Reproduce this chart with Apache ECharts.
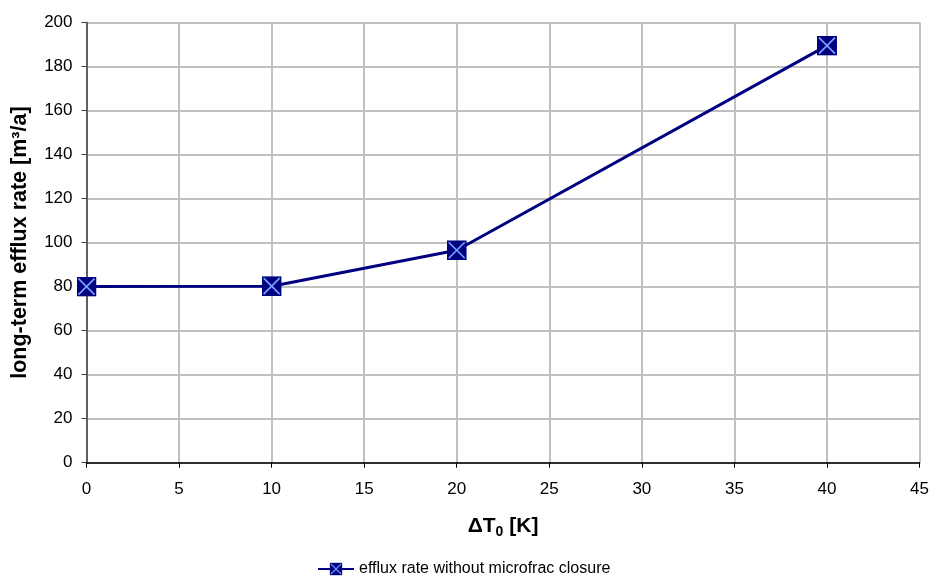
<!DOCTYPE html>
<html>
<head>
<meta charset="utf-8">
<script src="https://cdn.jsdelivr.net/npm/echarts@6/dist/echarts.min.js"></script>
<style>
  html, body { margin: 0; padding: 0; background: #fff; }
  #chart { width: 932px; height: 581px; }
</style>
</head>
<body>
<div id="chart"></div>
<script>
// Temperature difference ΔT0 [K]
const deltaT = [0, 10, 20, 40];
// Long-term efflux rate [m³/a]
const effluxRate = [80, 80.2, 96.5, 189.5];
const seriesName = 'efflux rate without microfrac closure';

// Square marker with crossed diagonals
const markerSvg = '<svg xmlns="http://www.w3.org/2000/svg" width="20" height="20" viewBox="0 0 20 20">' +
  '<rect x="0" y="0" width="20" height="20" fill="#000080"/>' +
  '<line x1="2" y1="2" x2="18" y2="18" stroke="#7aa6ff" stroke-width="1.6"/>' +
  '<line x1="18" y1="2" x2="2" y2="18" stroke="#7aa6ff" stroke-width="1.6"/>' +
  '</svg>';
const markerSymbol = 'image://data:image/svg+xml;charset=utf-8,' + encodeURIComponent(markerSvg);

const font = 'Liberation Sans, Arial, sans-serif';
const chart = echarts.init(document.getElementById('chart'), null, { renderer: 'canvas' });

chart.setOption({
  animation: false,
  backgroundColor: '#ffffff',
  grid: { left: 86.5, right: 12, top: 22.5, bottom: 118.3, containLabel: false },
  xAxis: {
    type: 'value',
    min: 0, max: 45, interval: 5,
    name: '{b|ΔT}{s|0}{b| [K]}',
    nameLocation: 'middle',
    nameGap: 52,
    nameTextStyle: {
      rich: {
        b: { fontFamily: font, fontWeight: 'bold', fontSize: 21, color: '#000' },
        s: { fontFamily: font, fontWeight: 'bold', fontSize: 14, color: '#000', verticalAlign: 'bottom', padding: [10, 0, 0, 0] }
      }
    },
    axisLine: { show: true, onZero: false, lineStyle: { color: '#000', width: 1.5 } },
    axisTick: { show: true, length: 5, lineStyle: { color: '#000', width: 1 } },
    axisLabel: { fontFamily: font, fontSize: 17, color: '#000', margin: 18 },
    splitLine: { show: true, lineStyle: { color: '#c0c0c0', width: 2 } }
  },
  yAxis: {
    type: 'value',
    min: 0, max: 200, interval: 20,
    name: 'long-term efflux rate [m³/a]',
    nameLocation: 'middle',
    nameGap: 55,
    nameTextStyle: { fontFamily: font, fontWeight: 'bold', fontSize: 21.5, color: '#000' },
    axisLine: { show: true, lineStyle: { color: '#404040', width: 1.5 } },
    axisTick: { show: true, length: 5, lineStyle: { color: '#404040', width: 1 } },
    axisLabel: { fontFamily: font, fontSize: 17, color: '#000', margin: 14 },
    splitLine: { show: true, lineStyle: { color: '#c0c0c0', width: 2 } }
  },
  legend: {
    top: 556,
    left: 312,
    itemWidth: 36,
    itemHeight: 16,
    textStyle: { fontFamily: font, fontSize: 16, color: '#000' },
    data: [{ name: seriesName }]
  },
  series: [{
    name: seriesName,
    type: 'line',
    data: deltaT.map((t, i) => [t, effluxRate[i]]),
    lineStyle: { color: '#000080', width: 3 },
    itemStyle: { color: '#000080' },
    symbol: markerSymbol,
    symbolSize: 20,
    showAllSymbol: true
  }]
});
</script>
</body>
</html>
